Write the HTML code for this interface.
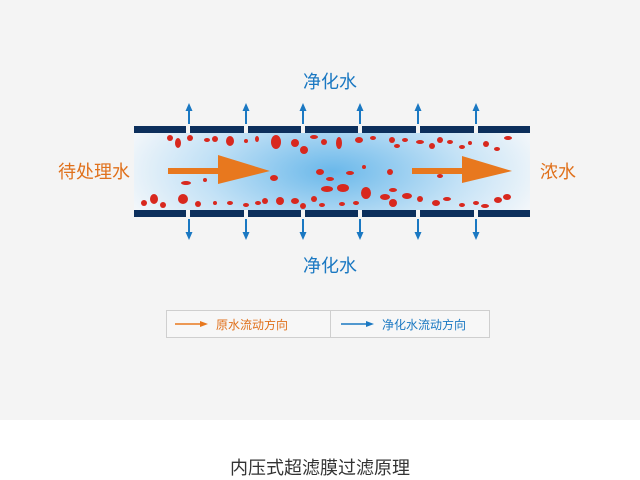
<!DOCTYPE html>
<html><head><meta charset="utf-8"><style>
body{margin:0;width:640px;height:480px;background:#fff;font-family:"Liberation Sans","Noto Sans CJK SC",sans-serif;overflow:hidden}
</style></head><body>
<svg width="640" height="480" viewBox="0 0 640 480" xmlns="http://www.w3.org/2000/svg" style="position:absolute;left:0;top:0">
<defs>
<radialGradient id="g" cx="0.5" cy="0.5" r="0.55" gradientTransform="translate(0.5 0.5) scale(1 2.2) translate(-0.5 -0.5)">
<stop offset="0" stop-color="#6ab8ea"/><stop offset="0.6" stop-color="#c4e2f6"/><stop offset="1" stop-color="#f4f7fa"/>
</radialGradient>
<marker id="bu" markerUnits="userSpaceOnUse" markerWidth="8" markerHeight="8" refX="2" refY="4" orient="auto"><path d="M0,0.5L8,4L0,7.5z" fill="#1a78c2"/></marker>
</defs>
<rect width="640" height="420" fill="#f4f4f4"/>
<rect x="134" y="133" width="396" height="77" fill="url(#g)"/>
<g fill="#0c2f5c">
<rect x="134" y="126" width="52" height="7"/><rect x="190" y="126" width="54" height="7"/><rect x="248" y="126" width="53" height="7"/><rect x="305" y="126" width="53" height="7"/><rect x="362" y="126" width="54" height="7"/><rect x="420" y="126" width="54" height="7"/><rect x="478" y="126" width="52" height="7"/>
<rect x="134" y="210" width="52" height="7"/><rect x="190" y="210" width="54" height="7"/><rect x="248" y="210" width="53" height="7"/><rect x="305" y="210" width="53" height="7"/><rect x="362" y="210" width="54" height="7"/><rect x="420" y="210" width="54" height="7"/><rect x="478" y="210" width="52" height="7"/>
</g>
<g stroke="#1a78c2" stroke-width="2">
<line x1="189" y1="124" x2="189" y2="109" marker-end="url(#bu)"/><line x1="246" y1="124" x2="246" y2="109" marker-end="url(#bu)"/><line x1="303" y1="124" x2="303" y2="109" marker-end="url(#bu)"/><line x1="360" y1="124" x2="360" y2="109" marker-end="url(#bu)"/><line x1="418" y1="124" x2="418" y2="109" marker-end="url(#bu)"/><line x1="476" y1="124" x2="476" y2="109" marker-end="url(#bu)"/>
<line x1="189" y1="219" x2="189" y2="234" marker-end="url(#bu)"/><line x1="246" y1="219" x2="246" y2="234" marker-end="url(#bu)"/><line x1="303" y1="219" x2="303" y2="234" marker-end="url(#bu)"/><line x1="360" y1="219" x2="360" y2="234" marker-end="url(#bu)"/><line x1="418" y1="219" x2="418" y2="234" marker-end="url(#bu)"/><line x1="476" y1="219" x2="476" y2="234" marker-end="url(#bu)"/>
</g>
<g fill="#d8281e">
<ellipse cx="170" cy="138" rx="3" ry="3"/><ellipse cx="178" cy="143" rx="3" ry="5"/><ellipse cx="190" cy="138" rx="3" ry="3"/><ellipse cx="207" cy="140" rx="3" ry="2"/><ellipse cx="215" cy="139" rx="3" ry="3"/><ellipse cx="230" cy="141" rx="4" ry="5"/><ellipse cx="246" cy="141" rx="2" ry="2"/><ellipse cx="257" cy="139" rx="2" ry="3"/><ellipse cx="276" cy="142" rx="5" ry="7"/><ellipse cx="295" cy="143" rx="4" ry="4"/><ellipse cx="304" cy="150" rx="4" ry="4"/><ellipse cx="314" cy="137" rx="4" ry="2"/><ellipse cx="324" cy="142" rx="3" ry="3"/><ellipse cx="339" cy="143" rx="3" ry="6"/><ellipse cx="359" cy="140" rx="4" ry="3"/><ellipse cx="373" cy="138" rx="3" ry="2"/><ellipse cx="392" cy="140" rx="3" ry="3"/><ellipse cx="397" cy="146" rx="3" ry="2"/><ellipse cx="405" cy="140" rx="3" ry="2"/><ellipse cx="420" cy="142" rx="4" ry="2"/><ellipse cx="432" cy="146" rx="3" ry="3"/><ellipse cx="440" cy="140" rx="3" ry="3"/><ellipse cx="450" cy="142" rx="3" ry="2"/><ellipse cx="462" cy="147" rx="3" ry="2"/><ellipse cx="470" cy="143" rx="2" ry="2"/><ellipse cx="486" cy="144" rx="3" ry="3"/><ellipse cx="508" cy="138" rx="4" ry="2"/><ellipse cx="497" cy="149" rx="3" ry="2"/>
<ellipse cx="186" cy="183" rx="5" ry="2"/><ellipse cx="205" cy="180" rx="2" ry="2"/><ellipse cx="274" cy="178" rx="4" ry="3"/><ellipse cx="320" cy="172" rx="4" ry="3"/><ellipse cx="330" cy="179" rx="4" ry="2"/><ellipse cx="350" cy="173" rx="4" ry="2"/><ellipse cx="364" cy="167" rx="2" ry="2"/><ellipse cx="390" cy="172" rx="3" ry="3"/><ellipse cx="440" cy="176" rx="3" ry="2"/><ellipse cx="327" cy="189" rx="6" ry="3"/><ellipse cx="343" cy="188" rx="6" ry="4"/><ellipse cx="366" cy="193" rx="5" ry="6"/><ellipse cx="393" cy="190" rx="4" ry="2"/>
<ellipse cx="144" cy="203" rx="3" ry="3"/><ellipse cx="154" cy="199" rx="4" ry="5"/><ellipse cx="163" cy="205" rx="3" ry="3"/><ellipse cx="183" cy="199" rx="5" ry="5"/><ellipse cx="198" cy="204" rx="3" ry="3"/><ellipse cx="215" cy="203" rx="2" ry="2"/><ellipse cx="230" cy="203" rx="3" ry="2"/><ellipse cx="246" cy="205" rx="3" ry="2"/><ellipse cx="258" cy="203" rx="3" ry="2"/><ellipse cx="265" cy="201" rx="3" ry="3"/><ellipse cx="280" cy="201" rx="4" ry="4"/><ellipse cx="295" cy="201" rx="4" ry="3"/><ellipse cx="303" cy="206" rx="3" ry="3"/><ellipse cx="314" cy="199" rx="3" ry="3"/><ellipse cx="322" cy="205" rx="3" ry="2"/><ellipse cx="342" cy="204" rx="3" ry="2"/><ellipse cx="356" cy="203" rx="3" ry="2"/><ellipse cx="385" cy="197" rx="5" ry="3"/><ellipse cx="393" cy="203" rx="4" ry="4"/><ellipse cx="407" cy="196" rx="5" ry="3"/><ellipse cx="420" cy="199" rx="3" ry="3"/><ellipse cx="436" cy="203" rx="4" ry="3"/><ellipse cx="447" cy="199" rx="4" ry="2"/><ellipse cx="462" cy="205" rx="3" ry="2"/><ellipse cx="476" cy="203" rx="3" ry="2"/><ellipse cx="485" cy="206" rx="4" ry="2"/><ellipse cx="498" cy="200" rx="4" ry="3"/><ellipse cx="507" cy="197" rx="4" ry="3"/>
</g>
<g fill="#e8781e">
<rect x="168" y="168" width="52" height="6"/><path d="M218,155L270,171L218,184z"/>
<rect x="412" y="168" width="52" height="6"/><path d="M462,156L512,171L462,183z"/>
</g>
<g font-size="18" text-anchor="middle">
<text x="330" y="88" fill="#1a78c2">净化水</text>
<text x="330" y="272" fill="#1a78c2">净化水</text>
<text x="94" y="178" fill="#e0711c">待处理水</text>
<text x="558" y="178" fill="#e0711c">浓水</text>
</g>
<rect x="166.5" y="310.5" width="164" height="27" fill="#f7f7f7" stroke="#cfcfcf"/>
<rect x="330.5" y="310.5" width="159" height="27" fill="#f7f7f7" stroke="#cfcfcf"/>
<line x1="175" y1="324" x2="204" y2="324" stroke="#e8781e" stroke-width="1.5"/><path d="M200,321L208,324L200,327z" fill="#e8781e"/>
<line x1="341" y1="324" x2="370" y2="324" stroke="#1a78c2" stroke-width="1.5"/><path d="M366,321L374,324L366,327z" fill="#1a78c2"/>
<text x="216" y="329" font-size="12" fill="#e0711c">原水流动方向</text>
<text x="382" y="329" font-size="12" fill="#1a78c2">净化水流动方向</text>
<text x="320" y="474" font-size="18" fill="#333" text-anchor="middle">内压式超滤膜过滤原理</text>
</svg>
</body></html>
